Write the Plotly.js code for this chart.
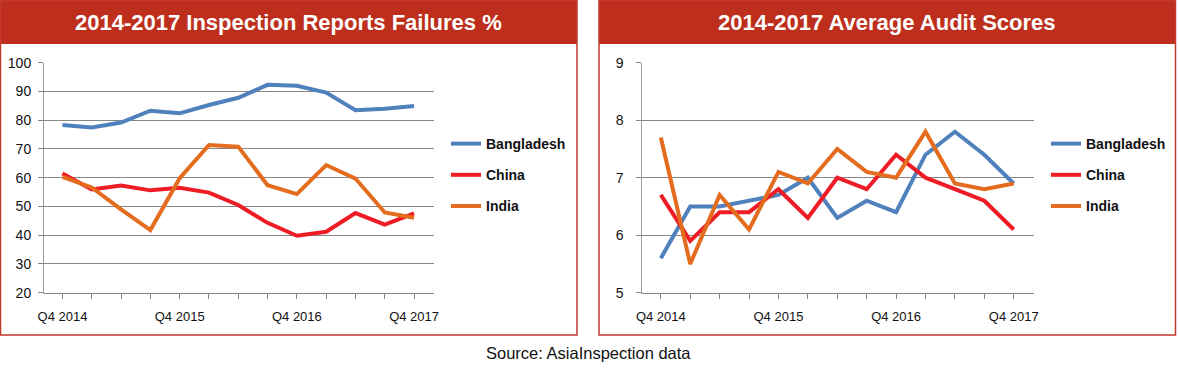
<!DOCTYPE html>
<html>
<head>
<meta charset="utf-8">
<script src="https://cdn.plot.ly/plotly-3.0.1.min.js"></script>
<style>
html,body{margin:0;padding:0;background:#fff;}
#chart{width:1178px;height:373px;}
</style>
</head>
<body>
<div id="chart"></div>
<script>
// ---- Data ----
const quarterIdx = [0,1,2,3,4,5,6,7,8,9,10,11,12];
const tickLabels = ['Q4 2014','','','','Q4 2015','','','','Q4 2016','','','','Q4 2017'];
const seriesNames = ['Bangladesh','China','India'];

// Inspection Reports Failures %
const failBangladesh = [78.3,77.5,79.2,83.3,82.4,85.3,87.8,92.3,92.0,89.6,83.5,84.0,84.9];
const failChina      = [61.5,55.9,57.3,55.6,56.5,54.8,50.5,44.3,39.8,41.2,47.7,43.7,47.6];
const failIndia      = [60.3,56.6,49.0,41.8,59.8,71.4,70.8,57.4,54.3,64.4,59.7,47.9,46.1];

// Average Audit Scores
const auditBangladesh = [5.6,6.5,6.5,6.6,6.7,7.0,6.3,6.6,6.4,7.4,7.8,7.4,6.9];
const auditChina      = [6.7,5.9,6.4,6.4,6.8,6.3,7.0,6.8,7.4,7.0,6.8,6.6,6.1];
const auditIndia      = [7.7,5.5,6.7,6.1,7.1,6.9,7.5,7.1,7.0,7.8,6.9,6.8,6.9];

const titles = ['2014-2017 Inspection Reports Failures %','2014-2017 Average Audit Scores'];
const sourceText = 'Source: AsiaInspection data';

// ---- Styles ----
const W = 1178, H = 373;
const colors = ['#4F81BD','#EE1C25','#E46C1E'];
const headerColor = '#BD2F1C';
const gridColor = '#878787';
const FONT = 'Arial, "Liberation Sans", sans-serif';
const px = v => v / W;
const py = v => (H - v) / H;

const leftData = [failBangladesh, failChina, failIndia];
const rightData = [auditBangladesh, auditChina, auditIndia];

const traces = [];
leftData.forEach((d, i) => traces.push({
  x: quarterIdx, y: d, type: 'scatter', mode: 'lines', name: seriesNames[i],
  line: {color: colors[i], width: 4}, xaxis: 'x', yaxis: 'y',
  legend: 'legend', legendgroup: 'L' + i, hoverinfo: 'skip'
}));
rightData.forEach((d, i) => traces.push({
  x: quarterIdx, y: d, type: 'scatter', mode: 'lines', name: seriesNames[i],
  line: {color: colors[i], width: 4}, xaxis: 'x2', yaxis: 'y2',
  legend: 'legend2', legendgroup: 'R' + i, hoverinfo: 'skip'
}));

const xCommon = {
  tickmode: 'array', tickvals: quarterIdx, ticktext: tickLabels,
  range: [-0.63, 12.69], showgrid: false, zeroline: false,
  showline: true, linecolor: gridColor, linewidth: 1,
  ticks: 'outside', ticklen: 5, tickcolor: gridColor, tickwidth: 1,
  ticklabelstandoff: 7,
  tickfont: {family: FONT, size: 13, color: '#111'}, fixedrange: true
};
const yCommon = {
  showgrid: true, gridcolor: gridColor, gridwidth: 1, zeroline: false,
  showline: true, linecolor: '#9a9a9a', linewidth: 1,
  ticks: 'outside', ticklen: 5, tickcolor: gridColor,
  tickfont: {family: FONT, size: 14, color: '#111'}, fixedrange: true
};
const yDom = [py(292.7), py(62.7)];

const legendCommon = {
  font: {family: FONT, size: 14, color: '#111', weight: 'bold'},
  bgcolor: 'rgba(0,0,0,0)', borderwidth: 0,
  xanchor: 'left', yanchor: 'top', tracegroupgap: 10,
  orientation: 'v'
};

const shapes = [];
const annotations = [];
const panels = [[0.5, 577], [599, 1175.5]];
panels.forEach((p, i) => {
  shapes.push({type: 'rect', xref: 'paper', yref: 'paper',
    x0: px(p[0]), x1: px(p[1]), y0: py(44), y1: py(0),
    fillcolor: headerColor, line: {width: 0}, layer: 'below'});
  shapes.push({type: 'rect', xref: 'paper', yref: 'paper',
    x0: px(p[0]), x1: px(p[1]), y0: py(335), y1: py(0.5),
    fillcolor: 'rgba(0,0,0,0)', line: {color: '#C0392B', width: 1.5}});
  annotations.push({xref: 'paper', yref: 'paper', x: px((p[0] + p[1]) / 2), y: py(22),
    xanchor: 'center', yanchor: 'middle', showarrow: false,
    text: '<b>' + titles[i] + '</b>',
    font: {family: FONT, size: 22, color: '#ffffff'}});
});
annotations.push({xref: 'paper', yref: 'paper', x: px(588), y: py(353),
  xanchor: 'center', yanchor: 'middle', showarrow: false, text: sourceText,
  font: {family: FONT, size: 16.5, color: '#111'}});

const layout = {
  width: W, height: H, margin: {l: 0, r: 0, t: 0, b: 0},
  paper_bgcolor: '#ffffff', plot_bgcolor: '#ffffff',
  showlegend: true,
  xaxis: Object.assign({}, xCommon, {domain: [px(44), px(434.3)], anchor: 'y'}),
  yaxis: Object.assign({}, yCommon, {domain: yDom, range: [20, 100], dtick: 10, tick0: 0, anchor: 'x', ticklabelstandoff: 4}),
  xaxis2: Object.assign({}, xCommon, {domain: [px(642.3), px(1034)], anchor: 'y2'}),
  yaxis2: Object.assign({}, yCommon, {domain: yDom, range: [5, 9], dtick: 1, tick0: 0, anchor: 'x2', ticklabelstandoff: 10}),
  legend: Object.assign({}, legendCommon, {x: px(446), y: py(128)}),
  legend2: Object.assign({}, legendCommon, {x: px(1046), y: py(128)}),
  shapes: shapes, annotations: annotations
};

Plotly.newPlot('chart', traces, layout, {displayModeBar: false, staticPlot: true});
</script>
</body>
</html>
